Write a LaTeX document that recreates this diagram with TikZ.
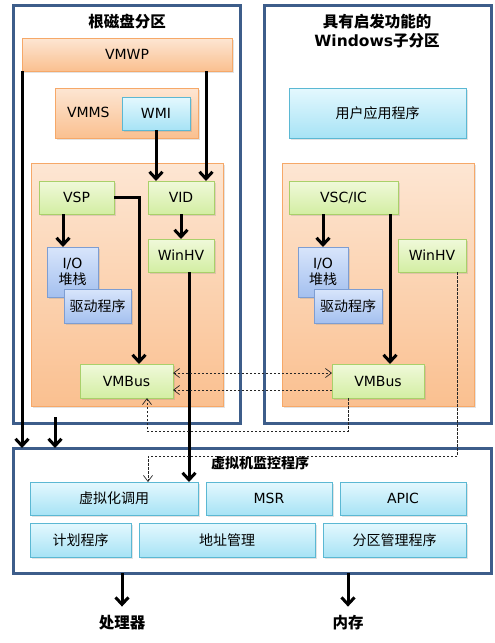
\documentclass[tikz,border=0pt]{standalone}
\usepackage{fontspec}
\setmainfont{DejaVu Sans}
\newfontfamily\cjk{Noto Sans CJK SC}
\usetikzlibrary{arrows.meta,calc,shadows}
\definecolor{partc}{HTML}{3D5D8A}
\definecolor{ortop}{HTML}{FDE6D3}
\definecolor{orbot}{HTML}{FAC090}
\definecolor{orbd}{HTML}{F6A868}
\definecolor{grtop}{HTML}{F0F9DA}
\definecolor{grbot}{HTML}{D3EEA3}
\definecolor{grbd}{HTML}{A9D06A}
\definecolor{cytop}{HTML}{E4F8FE}
\definecolor{cybot}{HTML}{A7E3F5}
\definecolor{cybd}{HTML}{5BB8D3}
\definecolor{bltop}{HTML}{D8E5FB}
\definecolor{blbot}{HTML}{A4C0EF}
\definecolor{blbd}{HTML}{7D9DD2}
\begin{document}
\begin{tikzpicture}[x=1pt,y=-1pt,
 base/.style={inner sep=0pt, outer sep=0pt, align=center, font=\fontsize{14}{16}\selectfont},
 wh/.style 2 args={minimum width=#1pt, minimum height=#2pt},
 part/.style={base, draw=partc, line width=3pt},
 shd/.style={drop shadow={opacity=0.22, shadow xshift=1.5pt, shadow yshift=-1.5pt}},
 obox/.style={base, draw=orbd, line width=0.8pt, top color=ortop, bottom color=orbot, shd},
 gbox/.style={base, draw=grbd, line width=0.8pt, top color=grtop, bottom color=grbot, shd},
 cbox/.style={base, draw=cybd, line width=0.8pt, top color=cytop, bottom color=cybot, shd},
 bbox/.style={base, draw=blbd, line width=0.8pt, top color=bltop, bottom color=blbot, shd},
 title/.style={base, font=\fontsize{15.5}{19}\selectfont\bfseries},
 arr/.style={line width=3pt, -{Straight Barb[length=7pt,width=13pt]}},
 darr/.style={line width=0.7pt, draw=black!85, dash pattern=on 2.5pt off 1.5pt},
 dtip/.style={-{Straight Barb[length=6pt,width=9pt]}},
 dtips/.style={{Straight Barb[length=6pt,width=9pt]}-{Straight Barb[length=6pt,width=9pt]}}
]
\useasboundingbox (0,0) rectangle (495,643);
% partitions
\node[part, wh={227}{418}] (leftpart) at (126.5,214) {};
\node[part, wh={227}{418}] (rightpart) at (377.5,214) {};
\node[part, wh={478}{125}] (hyper) at (252,510.5) {};
\node[title] (t1) at (127,22) {\cjk 根磁盘分区};
\node[title] (t2) at (377,31) {{\cjk 具有启发功能的}\\Windows{\cjk 子分区}};
% left partition
\node[obox, wh={210}{33}] (vmwp) at (127,54.5) {VMWP};
\node[obox, wh={143}{50}] (vmms) at (126.5,113) {};
\node[base, anchor=west] (vmmst) at (67,112) {VMMS};
\node[cbox, wh={68}{33}] (wmi) at (156,113.5) {WMI};
\node[obox, wh={192}{243}] (linner) at (127,284.5) {};
\node[gbox, wh={75}{33}] (vsp) at (76.5,197.5) {VSP};
\node[gbox, wh={66}{33}] (vid) at (181,197.5) {VID};
\node[gbox, wh={66}{33}] (whvl) at (181,255.5) {WinHV};
\node[bbox, wh={51}{50}] (iol) at (72.5,272) {I/O\\{\cjk 堆栈}};
\node[bbox, wh={67}{34}] (drvl) at (97.5,306) {\cjk 驱动程序};
\node[gbox, wh={93}{34}] (vmbl) at (126.5,381) {VMBus};
% right partition
\node[cbox, wh={177}{50}] (app) at (377.5,113) {\cjk 用户应用程序};
\node[obox, wh={192}{243}] (rinner) at (378,284.5) {};
\node[gbox, wh={109}{33}] (vsc) at (343.5,197.5) {VSC/IC};
\node[gbox, wh={68}{33}] (whvr) at (432,255.5) {WinHV};
\node[bbox, wh={50}{50}] (ior) at (323,272) {I/O\\{\cjk 堆栈}};
\node[bbox, wh={68}{34}] (drvr) at (348,306) {\cjk 驱动程序};
\node[gbox, wh={92}{34}] (vmbr) at (378,381) {VMBus};
% hypervisor
\node[base, font=\fontsize{14}{16}\selectfont\bfseries] (ht) at (260,463) {\cjk 虚拟机监控程序};
\node[cbox, wh={168}{33}] (hc) at (114,498.5) {\cjk 虚拟化调用};
\node[cbox, wh={126}{33}] (msr) at (269,498.5) {MSR};
\node[cbox, wh={126}{33}] (apic) at (403,498.5) {APIC};
\node[cbox, wh={101}{34}] (sched) at (80.5,540) {\cjk 计划程序};
\node[cbox, wh={176}{34}] (addr) at (227,540) {\cjk 地址管理};
\node[cbox, wh={143}{34}] (pm) at (394.5,540) {\cjk 分区管理程序};
\node[title] (cpu) at (122,623) {\cjk 处理器};
\node[title] (mem) at (348,623) {\cjk 内存};
% solid arrows
\coordinate (c55) at (55,417);
\coordinate (c206) at (206,0);
\coordinate (c139) at (139,0);
\coordinate (c63) at (63,0);
\coordinate (c189) at (189,0);
\coordinate (c390) at (390,0);
\draw[arr] (vmwp.south west) -- (vmwp.south west |- hyper.north);
\draw[arr] (c55) -- (c55 |- hyper.north);
\draw[arr] (c206 |- vmwp.south) -- (c206 |- vid.north);
\draw[arr] (wmi.south) -- (wmi.south |- vid.north);
\draw[arr] (vsp.east) -| (c139 |- vmbl.north);
\draw[arr] (c63 |- vsp.south) -- (c63 |- iol.north);
\draw[arr] (vid.south) -- (whvl.north);
\draw[arr] (c189 |- whvl.south) -- (c189 |- hc.north);
\draw[arr] (ior.north |- vsc.south) -- (ior.north);
\draw[arr] (c390 |- vsc.south) -- (c390 |- vmbr.north);
\draw[arr] (cpu.north |- hyper.south) -- ($(cpu.north)+(0,-9)$);
\draw[arr] (mem.north |- hyper.south) -- ($(mem.north)+(0,-9)$);
% dashed arrows
\draw[darr, dtips] ($(vmbl.east)+(0,-8)$) -- ($(vmbr.west)+(0,-8)$);
\draw[darr, dtip] ($(vmbr.west)+(0,9)$) -- ($(vmbl.east)+(0,9)$);
\draw[darr, dtip] ($(vmbr.south west)+(16,0)$) -- ++(0,33) -| ($(vmbl.south west)+(67,0)$);
\draw[darr, dtip] ($(whvr.south east)+(-9,0)$) -- ++(0,184) -| ($(hc.north west)+(118,0)$);
\end{tikzpicture}
\end{document}
